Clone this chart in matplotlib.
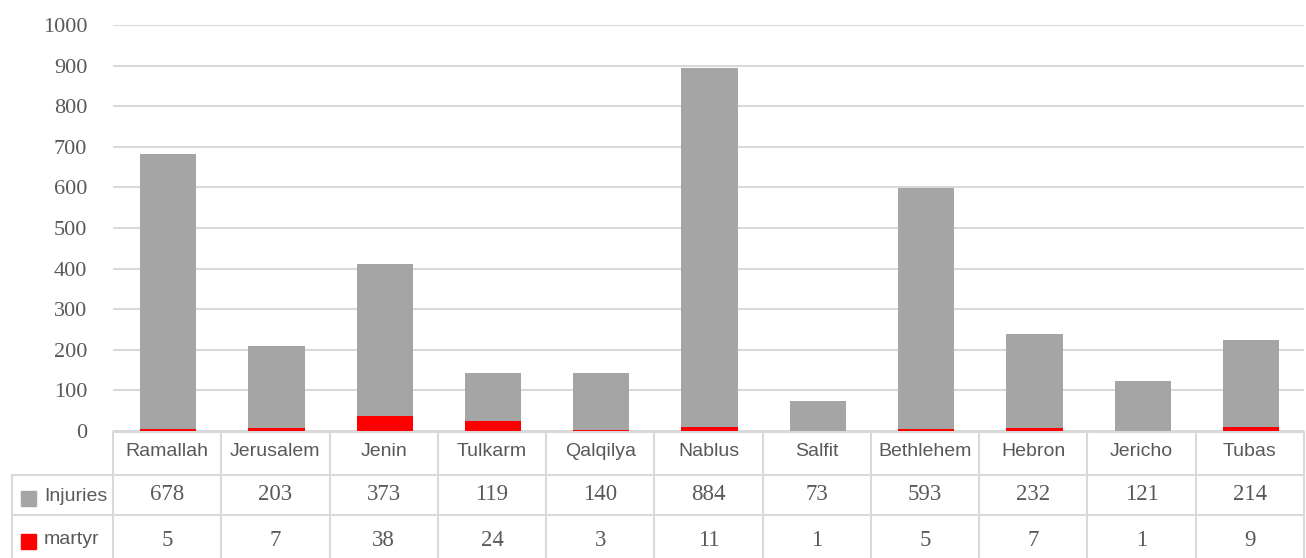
import matplotlib
matplotlib.use("Agg")
import matplotlib.pyplot as plt
from matplotlib.patches import Rectangle
from matplotlib.lines import Line2D

categories = ["Ramallah", "Jerusalem", "Jenin", "Tulkarm", "Qalqilya", "Nablus",
              "Salfit", "Bethlehem", "Hebron", "Jericho", "Tubas"]
injuries = [678, 203, 373, 119, 140, 884, 73, 593, 232, 121, 214]
martyr = [5, 7, 38, 24, 3, 11, 1, 5, 7, 1, 9]
series_names = ["Injuries", "martyr"]
yticks = [0, 100, 200, 300, 400, 500, 600, 700, 800, 900, 1000]

GRAY = "#a5a5a5"
RED = "#ff0000"
TXT = "#595959"
GRID = "#d9d9d9"
SERIF = ["Liberation Serif", "DejaVu Serif"]
SANS = ["Liberation Sans", "DejaVu Sans"]

W, H = 1306, 558
fig = plt.figure(figsize=(W / 100, H / 100), dpi=100)
x0, x1 = 113, 1304
y_top, y_zero = 25, 431
ax = fig.add_axes([x0 / W, (H - y_zero) / H, (x1 - x0) / W, (y_zero - y_top) / H])

x = [i + 0.01 for i in range(len(categories))]
ax.bar(x, injuries, width=0.52, bottom=martyr, color=GRAY, linewidth=0, zorder=3)
ax.bar(x, martyr, width=0.52, color=RED, linewidth=0, zorder=4)

ax.set_xlim(-0.5, len(categories) - 0.5)
ax.set_ylim(0, 1000)
ax.set_yticks(yticks)
ax.set_yticklabels([str(v) for v in yticks], fontfamily=SERIF, fontsize=16, color=TXT)
ax.tick_params(axis="y", length=0, pad=18.5)
ax.set_xticks([])
for s in ax.spines.values():
    s.set_visible(False)
ax.grid(axis="y", color=GRID, linewidth=1.5, zorder=0)

# Table
ah = y_zero - y_top  # axes height px
def yf(py):
    return -(py - y_zero) / ah

tr = ax.get_xaxis_transform()
lw = 1.5
catw = (x1 - x0) / len(categories)
xl = -0.5 - (x0 - 12) / catw
ax.add_line(Line2D([-0.5, len(categories) - 0.5], [yf(432)] * 2, transform=tr,
                   color=GRID, lw=lw, clip_on=False, zorder=2))
for py in [475, 515]:
    ax.add_line(Line2D([xl, len(categories) - 0.5], [yf(py)] * 2, transform=tr,
                       color=GRID, lw=lw, clip_on=False))
for k in range(len(categories) + 1):
    ax.add_line(Line2D([k - 0.5] * 2, [yf(432), yf(560)], transform=tr,
                       color=GRID, lw=lw, clip_on=False))
ax.add_line(Line2D([xl] * 2, [yf(475), yf(560)], transform=tr,
                   color=GRID, lw=lw, clip_on=False))

for i, c in enumerate(categories):
    ax.text(i, yf(451), c, transform=tr, ha="center", va="center",
            fontfamily=SANS, fontsize=14, color=TXT)
    ax.text(i, yf(495), str(injuries[i]), transform=tr, ha="center", va="center",
            fontfamily=SERIF, fontsize=16.5, color=TXT)
    ax.text(i, yf(540), str(martyr[i]), transform=tr, ha="center", va="center",
            fontfamily=SERIF, fontsize=16.5, color=TXT)

for name, col, cy, base in [(series_names[0], GRAY, 498, 501), (series_names[1], RED, 541, 544)]:
    fig.patches.append(Rectangle((21 / W, (H - cy - 7.5) / H), 15 / W, 15 / H,
                                 transform=fig.transFigure, color=col))
    fig.text(44 / W, (H - base) / H, name, ha="left", va="baseline",
             fontfamily=SANS, fontsize=14, color=TXT)

fig.savefig("out.png", dpi=100)
